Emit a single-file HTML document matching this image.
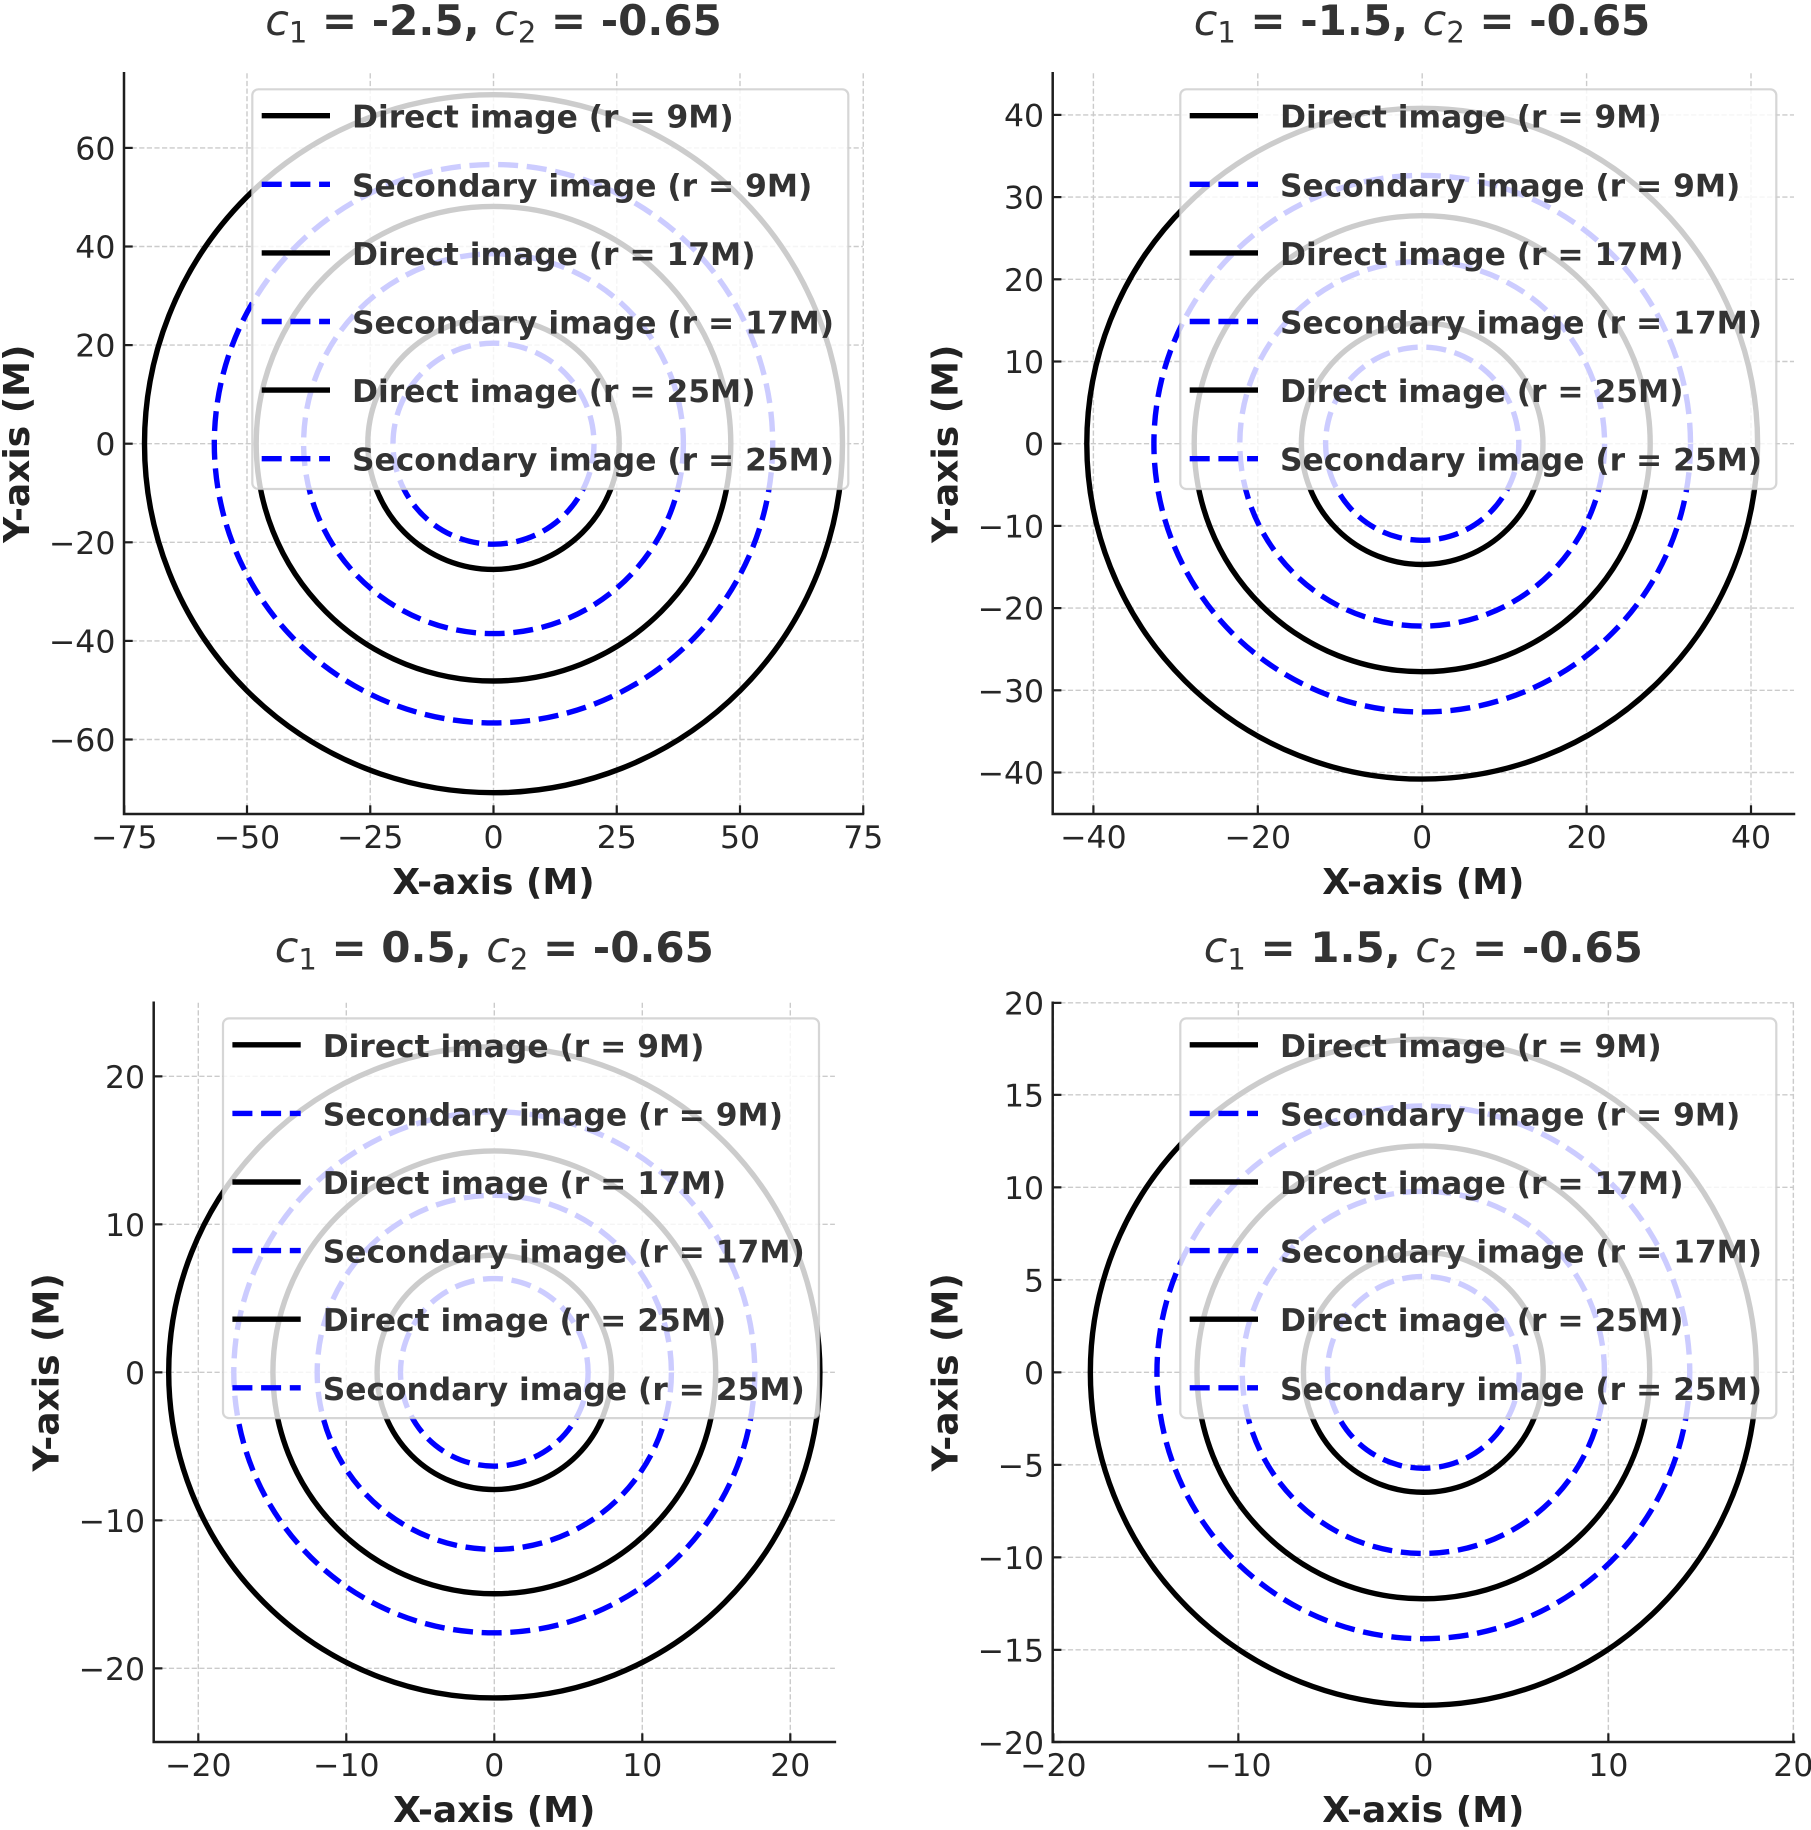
<!DOCTYPE html>
<html>
<head>
<meta charset="utf-8">
<style>
html,body{margin:0;padding:0;background:#fff;}
svg{display:block;}
text{font-family:"DejaVu Sans","Liberation Sans",sans-serif;}
.grid line{stroke:#cbcbcb;stroke-width:1.4;stroke-dasharray:5.2 2.4;}
.spine{stroke:#1e1e1e;stroke-width:2.5;fill:none;stroke-linecap:square;}
.tick{stroke:#1e1e1e;stroke-width:2.2;}
.blk{fill:none;stroke:#000;stroke-width:5.4;}
.blu{fill:none;stroke:#0000ff;stroke-width:5.4;stroke-dasharray:20 8.7;}
.tl{font-size:31.5px;fill:#262626;}
.tx{text-anchor:middle;}
.ty{text-anchor:end;}
.al{font-size:36px;font-weight:bold;fill:#222;text-anchor:middle;}
.ti{font-size:42px;font-weight:bold;fill:#333;text-anchor:middle;}
.lgbox{fill:#fff;fill-opacity:0.8;stroke:#cccccc;stroke-opacity:0.8;stroke-width:2.2;}
.lgt{font-size:31.3px;font-weight:bold;fill:#333;}
</style>
</head>
<body>
<svg width="1811" height="1830" viewBox="0 0 1811 1830" xmlns="http://www.w3.org/2000/svg">
<rect x="0" y="0" width="1811" height="1830" fill="#fff"/>

<defs>
<g id="legend">
  <rect class="lgbox" x="0" y="0" width="596" height="399.7" rx="6" ry="6"/>
  <line class="blk" x1="9.4" y1="26.4" x2="77.7" y2="26.4"/>
  <line class="blu" x1="9.4" y1="95" x2="77.7" y2="95"/>
  <line class="blk" x1="9.4" y1="163.6" x2="77.7" y2="163.6"/>
  <line class="blu" x1="9.4" y1="232.2" x2="77.7" y2="232.2"/>
  <line class="blk" x1="9.4" y1="300.8" x2="77.7" y2="300.8"/>
  <line class="blu" x1="9.4" y1="369.4" x2="77.7" y2="369.4"/>
  <text class="lgt" x="99.7" y="38.4">Direct image (r = 9M)</text>
  <text class="lgt" x="99.7" y="107">Secondary image (r = 9M)</text>
  <text class="lgt" x="99.7" y="175.6">Direct image (r = 17M)</text>
  <text class="lgt" x="99.7" y="244.2">Secondary image (r = 17M)</text>
  <text class="lgt" x="99.7" y="312.8">Direct image (r = 25M)</text>
  <text class="lgt" x="99.7" y="381.4">Secondary image (r = 25M)</text>
</g>
</defs>

<!-- ================= Subplot 1 ================= -->
<g class="grid">
  <line x1="124.25" y1="73.3" x2="124.25" y2="814"/>
  <line x1="247" y1="73.3" x2="247" y2="814"/>
  <line x1="370.25" y1="73.3" x2="370.25" y2="814"/>
  <line x1="493.5" y1="73.3" x2="493.5" y2="814"/>
  <line x1="616.75" y1="73.3" x2="616.75" y2="814"/>
  <line x1="740" y1="73.3" x2="740" y2="814"/>
  <line x1="863.25" y1="73.3" x2="863.25" y2="814"/>
  <line x1="124" y1="147.9" x2="863" y2="147.9"/>
  <line x1="124" y1="246.5" x2="863" y2="246.5"/>
  <line x1="124" y1="345.1" x2="863" y2="345.1"/>
  <line x1="124" y1="443.7" x2="863" y2="443.7"/>
  <line x1="124" y1="542.3" x2="863" y2="542.3"/>
  <line x1="124" y1="640.9" x2="863" y2="640.9"/>
  <line x1="124" y1="739.5" x2="863" y2="739.5"/>
</g>
<circle class="blk" cx="493.5" cy="443.7" r="125.7"/>
<circle class="blu" cx="493.5" cy="443.7" r="100.5"/>
<circle class="blk" cx="493.5" cy="443.7" r="237.3"/>
<circle class="blu" cx="493.5" cy="443.7" r="189.9"/>
<circle class="blk" cx="493.5" cy="443.7" r="349.0"/>
<circle class="blu" cx="493.5" cy="443.7" r="279.2"/>
<g class="tick">
  <line x1="124.25" y1="814" x2="124.25" y2="805.3"/>
  <line x1="247" y1="814" x2="247" y2="805.3"/>
  <line x1="370.25" y1="814" x2="370.25" y2="805.3"/>
  <line x1="493.5" y1="814" x2="493.5" y2="805.3"/>
  <line x1="616.75" y1="814" x2="616.75" y2="805.3"/>
  <line x1="740" y1="814" x2="740" y2="805.3"/>
  <line x1="863.25" y1="814" x2="863.25" y2="805.3"/>
  <line x1="124" y1="147.9" x2="132.7" y2="147.9"/>
  <line x1="124" y1="246.5" x2="132.7" y2="246.5"/>
  <line x1="124" y1="345.1" x2="132.7" y2="345.1"/>
  <line x1="124" y1="443.7" x2="132.7" y2="443.7"/>
  <line x1="124" y1="542.3" x2="132.7" y2="542.3"/>
  <line x1="124" y1="640.9" x2="132.7" y2="640.9"/>
  <line x1="124" y1="739.5" x2="132.7" y2="739.5"/>
</g>
<path class="spine" d="M124 73.3 L124 814 L863 814"/>
<use href="#legend" x="252.3" y="89.3"/>
<g class="tl tx">
  <text x="124.25" y="848">−75</text>
  <text x="247" y="848">−50</text>
  <text x="370.25" y="848">−25</text>
  <text x="493.5" y="848">0</text>
  <text x="616.75" y="848">25</text>
  <text x="740" y="848">50</text>
  <text x="863.25" y="848">75</text>
</g>
<g class="tl ty">
  <text x="115.4" y="159.4">60</text>
  <text x="115.4" y="258">40</text>
  <text x="115.4" y="356.6">20</text>
  <text x="115.4" y="455.2">0</text>
  <text x="115.4" y="553.8">−20</text>
  <text x="115.4" y="652.4">−40</text>
  <text x="115.4" y="751">−60</text>
</g>
<text class="al" x="493.5" y="894">X-axis (M)</text>
<text class="al" transform="translate(29,443.7) rotate(-90)" x="0" y="0">Y-axis (M)</text>
<text class="ti" x="493.5" y="35"><tspan font-style="italic" font-weight="normal" font-size="43">c</tspan><tspan font-weight="normal" font-size="29" dy="7.5">1</tspan><tspan dy="-7.5"> = -2.5, </tspan><tspan font-style="italic" font-weight="normal" font-size="43">c</tspan><tspan font-weight="normal" font-size="29" dy="7.5">2</tspan><tspan dy="-7.5"> = -0.65</tspan></text>

<!-- ================= Subplot 2 ================= -->
<g class="grid">
  <line x1="1093.4" y1="73.3" x2="1093.4" y2="814"/>
  <line x1="1257.8" y1="73.3" x2="1257.8" y2="814"/>
  <line x1="1422.2" y1="73.3" x2="1422.2" y2="814"/>
  <line x1="1586.6" y1="73.3" x2="1586.6" y2="814"/>
  <line x1="1751" y1="73.3" x2="1751" y2="814"/>
  <line x1="1052.7" y1="114.9" x2="1794" y2="114.9"/>
  <line x1="1052.7" y1="197.1" x2="1794" y2="197.1"/>
  <line x1="1052.7" y1="279.3" x2="1794" y2="279.3"/>
  <line x1="1052.7" y1="361.5" x2="1794" y2="361.5"/>
  <line x1="1052.7" y1="443.7" x2="1794" y2="443.7"/>
  <line x1="1052.7" y1="525.9" x2="1794" y2="525.9"/>
  <line x1="1052.7" y1="608.1" x2="1794" y2="608.1"/>
  <line x1="1052.7" y1="690.3" x2="1794" y2="690.3"/>
  <line x1="1052.7" y1="772.5" x2="1794" y2="772.5"/>
</g>
<circle class="blk" cx="1422.2" cy="443.7" r="120.8"/>
<circle class="blu" cx="1422.2" cy="443.7" r="96.6"/>
<circle class="blk" cx="1422.2" cy="443.7" r="228.0"/>
<circle class="blu" cx="1422.2" cy="443.7" r="182.4"/>
<circle class="blk" cx="1422.2" cy="443.7" r="335.4"/>
<circle class="blu" cx="1422.2" cy="443.7" r="268.3"/>
<g class="tick">
  <line x1="1093.4" y1="814" x2="1093.4" y2="805.3"/>
  <line x1="1257.8" y1="814" x2="1257.8" y2="805.3"/>
  <line x1="1422.2" y1="814" x2="1422.2" y2="805.3"/>
  <line x1="1586.6" y1="814" x2="1586.6" y2="805.3"/>
  <line x1="1751" y1="814" x2="1751" y2="805.3"/>
  <line x1="1052.7" y1="114.9" x2="1061.4" y2="114.9"/>
  <line x1="1052.7" y1="197.1" x2="1061.4" y2="197.1"/>
  <line x1="1052.7" y1="279.3" x2="1061.4" y2="279.3"/>
  <line x1="1052.7" y1="361.5" x2="1061.4" y2="361.5"/>
  <line x1="1052.7" y1="443.7" x2="1061.4" y2="443.7"/>
  <line x1="1052.7" y1="525.9" x2="1061.4" y2="525.9"/>
  <line x1="1052.7" y1="608.1" x2="1061.4" y2="608.1"/>
  <line x1="1052.7" y1="690.3" x2="1061.4" y2="690.3"/>
  <line x1="1052.7" y1="772.5" x2="1061.4" y2="772.5"/>
</g>
<path class="spine" d="M1052.7 73.3 L1052.7 814 L1794 814"/>
<use href="#legend" x="1180.3" y="89.3"/>
<g class="tl tx">
  <text x="1093.4" y="848">−40</text>
  <text x="1257.8" y="848">−20</text>
  <text x="1422.2" y="848">0</text>
  <text x="1586.6" y="848">20</text>
  <text x="1751" y="848">40</text>
</g>
<g class="tl ty">
  <text x="1044.1" y="126.4">40</text>
  <text x="1044.1" y="208.6">30</text>
  <text x="1044.1" y="290.8">20</text>
  <text x="1044.1" y="373">10</text>
  <text x="1044.1" y="455.2">0</text>
  <text x="1044.1" y="537.4">−10</text>
  <text x="1044.1" y="619.6">−20</text>
  <text x="1044.1" y="701.8">−30</text>
  <text x="1044.1" y="784">−40</text>
</g>
<text class="al" x="1423.35" y="894">X-axis (M)</text>
<text class="al" transform="translate(957.7,443.7) rotate(-90)" x="0" y="0">Y-axis (M)</text>
<text class="ti" x="1422" y="35"><tspan font-style="italic" font-weight="normal" font-size="43">c</tspan><tspan font-weight="normal" font-size="29" dy="7.5">1</tspan><tspan dy="-7.5"> = -1.5, </tspan><tspan font-style="italic" font-weight="normal" font-size="43">c</tspan><tspan font-weight="normal" font-size="29" dy="7.5">2</tspan><tspan dy="-7.5"> = -0.65</tspan></text>

<!-- ================= Subplot 3 ================= -->
<g class="grid">
  <line x1="198.3" y1="1002.7" x2="198.3" y2="1742"/>
  <line x1="346.3" y1="1002.7" x2="346.3" y2="1742"/>
  <line x1="494.3" y1="1002.7" x2="494.3" y2="1742"/>
  <line x1="642.3" y1="1002.7" x2="642.3" y2="1742"/>
  <line x1="790.3" y1="1002.7" x2="790.3" y2="1742"/>
  <line x1="153.7" y1="1076.35" x2="834.9" y2="1076.35"/>
  <line x1="153.7" y1="1224.35" x2="834.9" y2="1224.35"/>
  <line x1="153.7" y1="1372.35" x2="834.9" y2="1372.35"/>
  <line x1="153.7" y1="1520.35" x2="834.9" y2="1520.35"/>
  <line x1="153.7" y1="1668.35" x2="834.9" y2="1668.35"/>
</g>
<circle class="blk" cx="494.3" cy="1372.35" r="117.2"/>
<circle class="blu" cx="494.3" cy="1372.35" r="93.8"/>
<circle class="blk" cx="494.3" cy="1372.35" r="221.4"/>
<circle class="blu" cx="494.3" cy="1372.35" r="177.1"/>
<circle class="blk" cx="494.3" cy="1372.35" r="325.6"/>
<circle class="blu" cx="494.3" cy="1372.35" r="260.5"/>
<g class="tick">
  <line x1="198.3" y1="1742" x2="198.3" y2="1733.3"/>
  <line x1="346.3" y1="1742" x2="346.3" y2="1733.3"/>
  <line x1="494.3" y1="1742" x2="494.3" y2="1733.3"/>
  <line x1="642.3" y1="1742" x2="642.3" y2="1733.3"/>
  <line x1="790.3" y1="1742" x2="790.3" y2="1733.3"/>
  <line x1="153.7" y1="1076.35" x2="162.4" y2="1076.35"/>
  <line x1="153.7" y1="1224.35" x2="162.4" y2="1224.35"/>
  <line x1="153.7" y1="1372.35" x2="162.4" y2="1372.35"/>
  <line x1="153.7" y1="1520.35" x2="162.4" y2="1520.35"/>
  <line x1="153.7" y1="1668.35" x2="162.4" y2="1668.35"/>
</g>
<path class="spine" d="M153.7 1002.7 L153.7 1742 L834.9 1742"/>
<use href="#legend" x="223" y="1018.4"/>
<g class="tl tx">
  <text x="198.3" y="1776">−20</text>
  <text x="346.3" y="1776">−10</text>
  <text x="494.3" y="1776">0</text>
  <text x="642.3" y="1776">10</text>
  <text x="790.3" y="1776">20</text>
</g>
<g class="tl ty">
  <text x="145.1" y="1087.85">20</text>
  <text x="145.1" y="1235.85">10</text>
  <text x="145.1" y="1383.85">0</text>
  <text x="145.1" y="1531.85">−10</text>
  <text x="145.1" y="1679.85">−20</text>
</g>
<text class="al" x="494.3" y="1822">X-axis (M)</text>
<text class="al" transform="translate(58.7,1372.35) rotate(-90)" x="0" y="0">Y-axis (M)</text>
<text class="ti" x="494.3" y="962"><tspan font-style="italic" font-weight="normal" font-size="43">c</tspan><tspan font-weight="normal" font-size="29" dy="7.5">1</tspan><tspan dy="-7.5"> = 0.5, </tspan><tspan font-style="italic" font-weight="normal" font-size="43">c</tspan><tspan font-weight="normal" font-size="29" dy="7.5">2</tspan><tspan dy="-7.5"> = -0.65</tspan></text>

<!-- ================= Subplot 4 ================= -->
<g class="grid">
  <line x1="1053.35" y1="1002.7" x2="1053.35" y2="1742"/>
  <line x1="1238.35" y1="1002.7" x2="1238.35" y2="1742"/>
  <line x1="1423.35" y1="1002.7" x2="1423.35" y2="1742"/>
  <line x1="1608.35" y1="1002.7" x2="1608.35" y2="1742"/>
  <line x1="1793.35" y1="1002.7" x2="1793.35" y2="1742"/>
  <line x1="1052.7" y1="1002.85" x2="1794" y2="1002.85"/>
  <line x1="1052.7" y1="1094.85" x2="1794" y2="1094.85"/>
  <line x1="1052.7" y1="1187.35" x2="1794" y2="1187.35"/>
  <line x1="1052.7" y1="1279.85" x2="1794" y2="1279.85"/>
  <line x1="1052.7" y1="1372.35" x2="1794" y2="1372.35"/>
  <line x1="1052.7" y1="1464.85" x2="1794" y2="1464.85"/>
  <line x1="1052.7" y1="1557.35" x2="1794" y2="1557.35"/>
  <line x1="1052.7" y1="1649.85" x2="1794" y2="1649.85"/>
</g>
<circle class="blk" cx="1423.35" cy="1372.35" r="119.9"/>
<circle class="blu" cx="1423.35" cy="1372.35" r="95.9"/>
<circle class="blk" cx="1423.35" cy="1372.35" r="226.4"/>
<circle class="blu" cx="1423.35" cy="1372.35" r="181.1"/>
<circle class="blk" cx="1423.35" cy="1372.35" r="333.0"/>
<circle class="blu" cx="1423.35" cy="1372.35" r="266.4"/>
<g class="tick">
  <line x1="1053.35" y1="1742" x2="1053.35" y2="1733.3"/>
  <line x1="1238.35" y1="1742" x2="1238.35" y2="1733.3"/>
  <line x1="1423.35" y1="1742" x2="1423.35" y2="1733.3"/>
  <line x1="1608.35" y1="1742" x2="1608.35" y2="1733.3"/>
  <line x1="1793.35" y1="1742" x2="1793.35" y2="1733.3"/>
  <line x1="1052.7" y1="1002.85" x2="1061.4" y2="1002.85"/>
  <line x1="1052.7" y1="1094.85" x2="1061.4" y2="1094.85"/>
  <line x1="1052.7" y1="1187.35" x2="1061.4" y2="1187.35"/>
  <line x1="1052.7" y1="1279.85" x2="1061.4" y2="1279.85"/>
  <line x1="1052.7" y1="1372.35" x2="1061.4" y2="1372.35"/>
  <line x1="1052.7" y1="1464.85" x2="1061.4" y2="1464.85"/>
  <line x1="1052.7" y1="1557.35" x2="1061.4" y2="1557.35"/>
  <line x1="1052.7" y1="1649.85" x2="1061.4" y2="1649.85"/>
  <line x1="1052.7" y1="1742" x2="1061.4" y2="1742"/>
</g>
<path class="spine" d="M1052.7 1002.7 L1052.7 1742 L1794 1742"/>
<use href="#legend" x="1180.3" y="1018.4"/>
<g class="tl tx">
  <text x="1053.35" y="1776">−20</text>
  <text x="1238.35" y="1776">−10</text>
  <text x="1423.35" y="1776">0</text>
  <text x="1608.35" y="1776">10</text>
  <text x="1793.35" y="1776">20</text>
</g>
<g class="tl ty">
  <text x="1044.1" y="1014.35">20</text>
  <text x="1044.1" y="1106.35">15</text>
  <text x="1044.1" y="1198.85">10</text>
  <text x="1044.1" y="1291.35">5</text>
  <text x="1044.1" y="1383.85">0</text>
  <text x="1044.1" y="1476.35">−5</text>
  <text x="1044.1" y="1568.85">−10</text>
  <text x="1044.1" y="1661.35">−15</text>
  <text x="1044.1" y="1753.85">−20</text>
</g>
<text class="al" x="1423.35" y="1822">X-axis (M)</text>
<text class="al" transform="translate(957.7,1372.35) rotate(-90)" x="0" y="0">Y-axis (M)</text>
<text class="ti" x="1423.35" y="962"><tspan font-style="italic" font-weight="normal" font-size="43">c</tspan><tspan font-weight="normal" font-size="29" dy="7.5">1</tspan><tspan dy="-7.5"> = 1.5, </tspan><tspan font-style="italic" font-weight="normal" font-size="43">c</tspan><tspan font-weight="normal" font-size="29" dy="7.5">2</tspan><tspan dy="-7.5"> = -0.65</tspan></text>
</svg>
</body>
</html>
